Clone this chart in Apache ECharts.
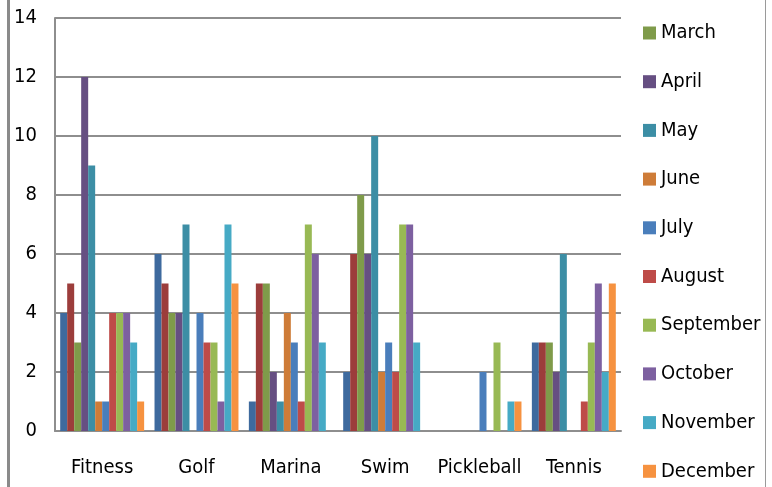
<!DOCTYPE html>
<html>
<head>
<meta charset="utf-8">
<script src="https://cdn.jsdelivr.net/npm/echarts@6/dist/echarts.min.js"></script>
<style>
html,body{margin:0;padding:0;background:#fff;}
#c{width:772px;height:487px;}
</style>
</head>
<body>
<div id="c"></div>
<script>
var categories = ['Fitness', 'Golf', 'Marina', 'Swim', 'Pickleball', 'Tennis'];
var months = ['January', 'February', 'March', 'April', 'May', 'June', 'July', 'August', 'September', 'October', 'November', 'December'];
var January   = [4, 6, 1, 2, 0, 3];
var February  = [5, 5, 5, 6, 0, 3];
var March     = [3, 4, 5, 8, 0, 3];
var April     = [12, 4, 2, 6, 0, 2];
var May       = [9, 7, 1, 10, 0, 6];
var June      = [1, 0, 4, 2, 0, 0];
var July      = [1, 4, 3, 3, 2, 0];
var August    = [4, 3, 1, 2, 0, 1];
var September = [4, 3, 7, 7, 3, 3];
var October   = [4, 1, 6, 7, 0, 5];
var November  = [3, 7, 3, 3, 1, 2];
var December  = [1, 5, 0, 0, 1, 5];
var yTicks = [0, 2, 4, 6, 8, 10, 12, 14];

var seriesValues = [January, February, March, April, May, June, July, August, September, October, November, December];
var colors = ['#3E6A9E', '#9C3D3B', '#7F9B4A', '#664F82', '#3C8EA5', '#CE7C38',
              '#4A7EBB', '#BE4B48', '#98B954', '#7D60A0', '#46AAC5', '#F69240'];
var fontFam = '"Liberation Sans Narrow", "DejaVu Sans Condensed", "Open Sans", sans-serif';

var chart = echarts.init(document.getElementById('c'), null, {renderer: 'canvas'});
var series = months.map(function (m, i) {
  return {
    name: m,
    type: 'bar',
    data: seriesValues[i],
    barGap: '0%',
    barCategoryGap: '11%',
    itemStyle: {color: colors[i]},
    animation: false
  };
});

chart.setOption({
  animation: false,
  color: colors,
  grid: {left: 55, right: 151, top: 18, bottom: 56, containLabel: false},
  legend: {
    orient: 'vertical',
    left: 643,
    top: 23,
    padding: 0,
    data: months.slice(2),
    icon: 'rect',
    itemWidth: 13,
    itemHeight: 13,
    itemGap: 28.7,
    textStyle: {fontFamily: fontFam, fontSize: 20, lineHeight: 20, color: '#000'},
    selectedMode: false
  },
  xAxis: {
    type: 'category',
    data: categories,
    axisLine: {show: true, lineStyle: {color: '#8E8E8E', width: 2}},
    axisTick: {show: false},
    axisLabel: {interval: 0, fontFamily: fontFam, fontSize: 20, color: '#000', margin: 27}
  },
  yAxis: {
    type: 'value',
    min: yTicks[0],
    max: yTicks[yTicks.length - 1],
    interval: 2,
    axisLine: {show: true, lineStyle: {color: '#8E8E8E', width: 2}},
    axisTick: {show: false},
    splitLine: {show: true, lineStyle: {color: '#8E8E8E', width: 2}},
    axisLabel: {fontFamily: fontFam, fontSize: 20, color: '#000', margin: 18}
  },
  graphic: [
    {type: 'rect', left: 7, top: 0, shape: {width: 3, height: 487}, style: {fill: '#8A8A8A'}},
    {type: 'rect', left: 765, top: 0, shape: {width: 1, height: 487}, style: {fill: '#9A9A9A'}}
  ],
  series: series
});
</script>
</body>
</html>
